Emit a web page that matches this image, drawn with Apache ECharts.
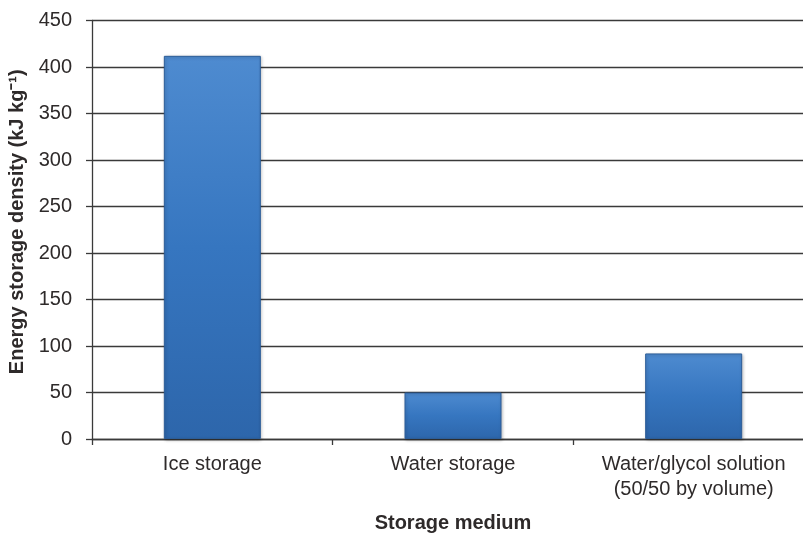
<!DOCTYPE html>
<html>
<head>
<meta charset="utf-8">
<script src="https://cdn.jsdelivr.net/npm/echarts@6/dist/echarts.min.js"></script>
<style>
  html, body { margin: 0; padding: 0; background: #fff; }
  #chart { width: 803px; height: 533px; }
</style>
</head>
<body>
<div id="chart"></div>
<script>
// Energy storage density by storage medium (kJ/kg)
const categories = ['Ice storage', 'Water storage', 'Water/glycol solution\n(50/50 by volume)'];
const densityValues = [412, 50, 92];
const yTickLabels = ['0', '50', '100', '150', '200', '250', '300', '350', '400', '450'];

const chart = echarts.init(document.getElementById('chart'), null, { renderer: 'canvas' });

const textColor = '#2e2a2a';
const lineColor = '#3a3a3a';
const fontFamily = '"Liberation Sans", Arial, Helvetica, sans-serif';

chart.setOption({
  animation: false,
  backgroundColor: '#ffffff',
  grid: {
    left: 92, right: -11, top: 20.5, bottom: 94,
    containLabel: false,
    outerBoundsMode: 'none'
  },
  xAxis: {
    type: 'category',
    data: categories,
    name: 'Storage medium',
    nameLocation: 'middle',
    nameGap: 74,
    nameTextStyle: { fontFamily, fontSize: 20, fontWeight: 'bold', color: textColor },
    axisLine: { show: true, lineStyle: { color: lineColor, width: 1.3 } },
    axisTick: { show: true, length: 6, alignWithLabel: false, lineStyle: { color: lineColor, width: 1.3 } },
    axisLabel: { fontFamily, fontSize: 20, color: textColor, margin: 13, lineHeight: 25, interval: 0 }
  },
  yAxis: {
    type: 'value',
    min: 0,
    max: 450,
    interval: 50,
    name: 'Energy storage density (kJ kg\u207B\u00B9)',
    nameLocation: 'middle',
    nameGap: 63,
    nameTextStyle: {
      fontFamily, fontSize: 20, fontWeight: 'bold', color: textColor,
      padding: [0, 0, 0, 16]
    },
    axisLine: { show: true, lineStyle: { color: lineColor, width: 1.3 } },
    axisTick: { show: true, length: 6, lineStyle: { color: lineColor, width: 1.3 } },
    axisLabel: {
      fontFamily, fontSize: 20, color: textColor, margin: 20,
      formatter: (v) => yTickLabels[Math.round(v / 50)] ?? String(v)
    },
    splitLine: { show: true, lineStyle: { color: lineColor, width: 1.3 } }
  },
  series: [{
    type: 'bar',
    data: densityValues,
    barWidth: 97,
    itemStyle: {
      color: new echarts.graphic.LinearGradient(0, 0, 0, 1, [
        { offset: 0, color: '#4e8bd0' },
        { offset: 0.5, color: '#3676c0' },
        { offset: 1, color: '#2d66ab' }
      ]),
      borderColor: '#2c5d98',
      borderWidth: 1,
      shadowColor: 'rgba(0,0,0,0.25)',
      shadowBlur: 3,
      shadowOffsetX: 1,
      shadowOffsetY: 1
    }
  }]
});
</script>
</body>
</html>
